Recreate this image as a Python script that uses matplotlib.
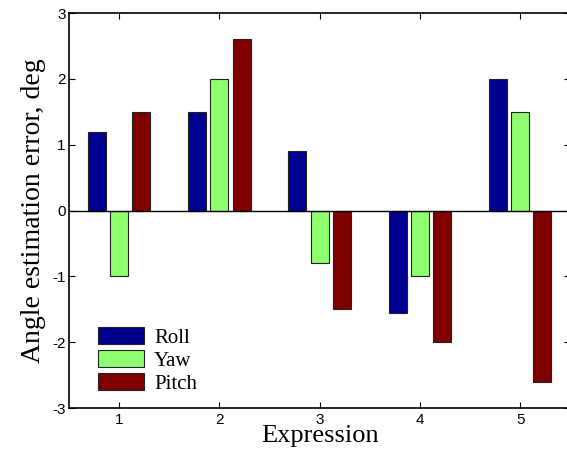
import numpy as np
import matplotlib.pyplot as plt

plt.rcParams['axes.unicode_minus'] = False

# values
expressions = [1, 2, 3, 4, 5]
roll = [1.2, 1.5, 0.9, -1.55, 2.0]
yaw = [-1.0, 2.0, -0.8, -1.0, 1.5]
pitch = [1.5, 2.6, -1.5, -2.0, -2.6]

fig = plt.figure(figsize=(5.67, 4.5), dpi=100)
ax = fig.add_axes([0.1217, 0.0933, 0.884, 0.8778])

x = np.array(expressions, dtype=float)
w = 0.18
off = 0.222
edge = '#222222'
ax.bar(x - off, roll, w, color='#00008F', edgecolor=edge, lw=0.8, label='Roll')
ax.bar(x, yaw, w, color='#8FFF70', edgecolor=edge, lw=0.8, label='Yaw')
ax.bar(x + off, pitch, w, color='#800000', edgecolor=edge, lw=0.8, label='Pitch')
ax.axhline(0, color='black', lw=1)

ax.set_xlim(0.5, 5.5)
ax.set_ylim(-3, 3)
ax.set_xticks(expressions)
ax.set_yticks(range(-3, 4))
ax.tick_params(direction='in', top=True, right=True, length=4, width=0.8,
               labelsize=11)
ax.tick_params(axis='x', pad=3.5)
ax.tick_params(axis='y', pad=2.5)
for lab in ax.get_xticklabels() + ax.get_yticklabels():
    lab.set_family('Liberation Sans')
for s in ax.spines.values():
    s.set_linewidth(1.2)
ax.spines['right'].set_visible(False)

ax.set_xlabel('Expression', family='Liberation Serif', fontsize=19, labelpad=-1)
ax.set_ylabel('Angle estimation error, deg', family='Liberation Serif',
              fontsize=20, labelpad=4)

ax.legend(loc='lower left', bbox_to_anchor=(0.037, 0.01), frameon=False,
          prop={'family': 'Liberation Serif', 'size': 15},
          handlelength=2.2, handleheight=0.9, labelspacing=0.1,
          handletextpad=0.5, borderpad=0)

fig.savefig('out.png', dpi=100)
